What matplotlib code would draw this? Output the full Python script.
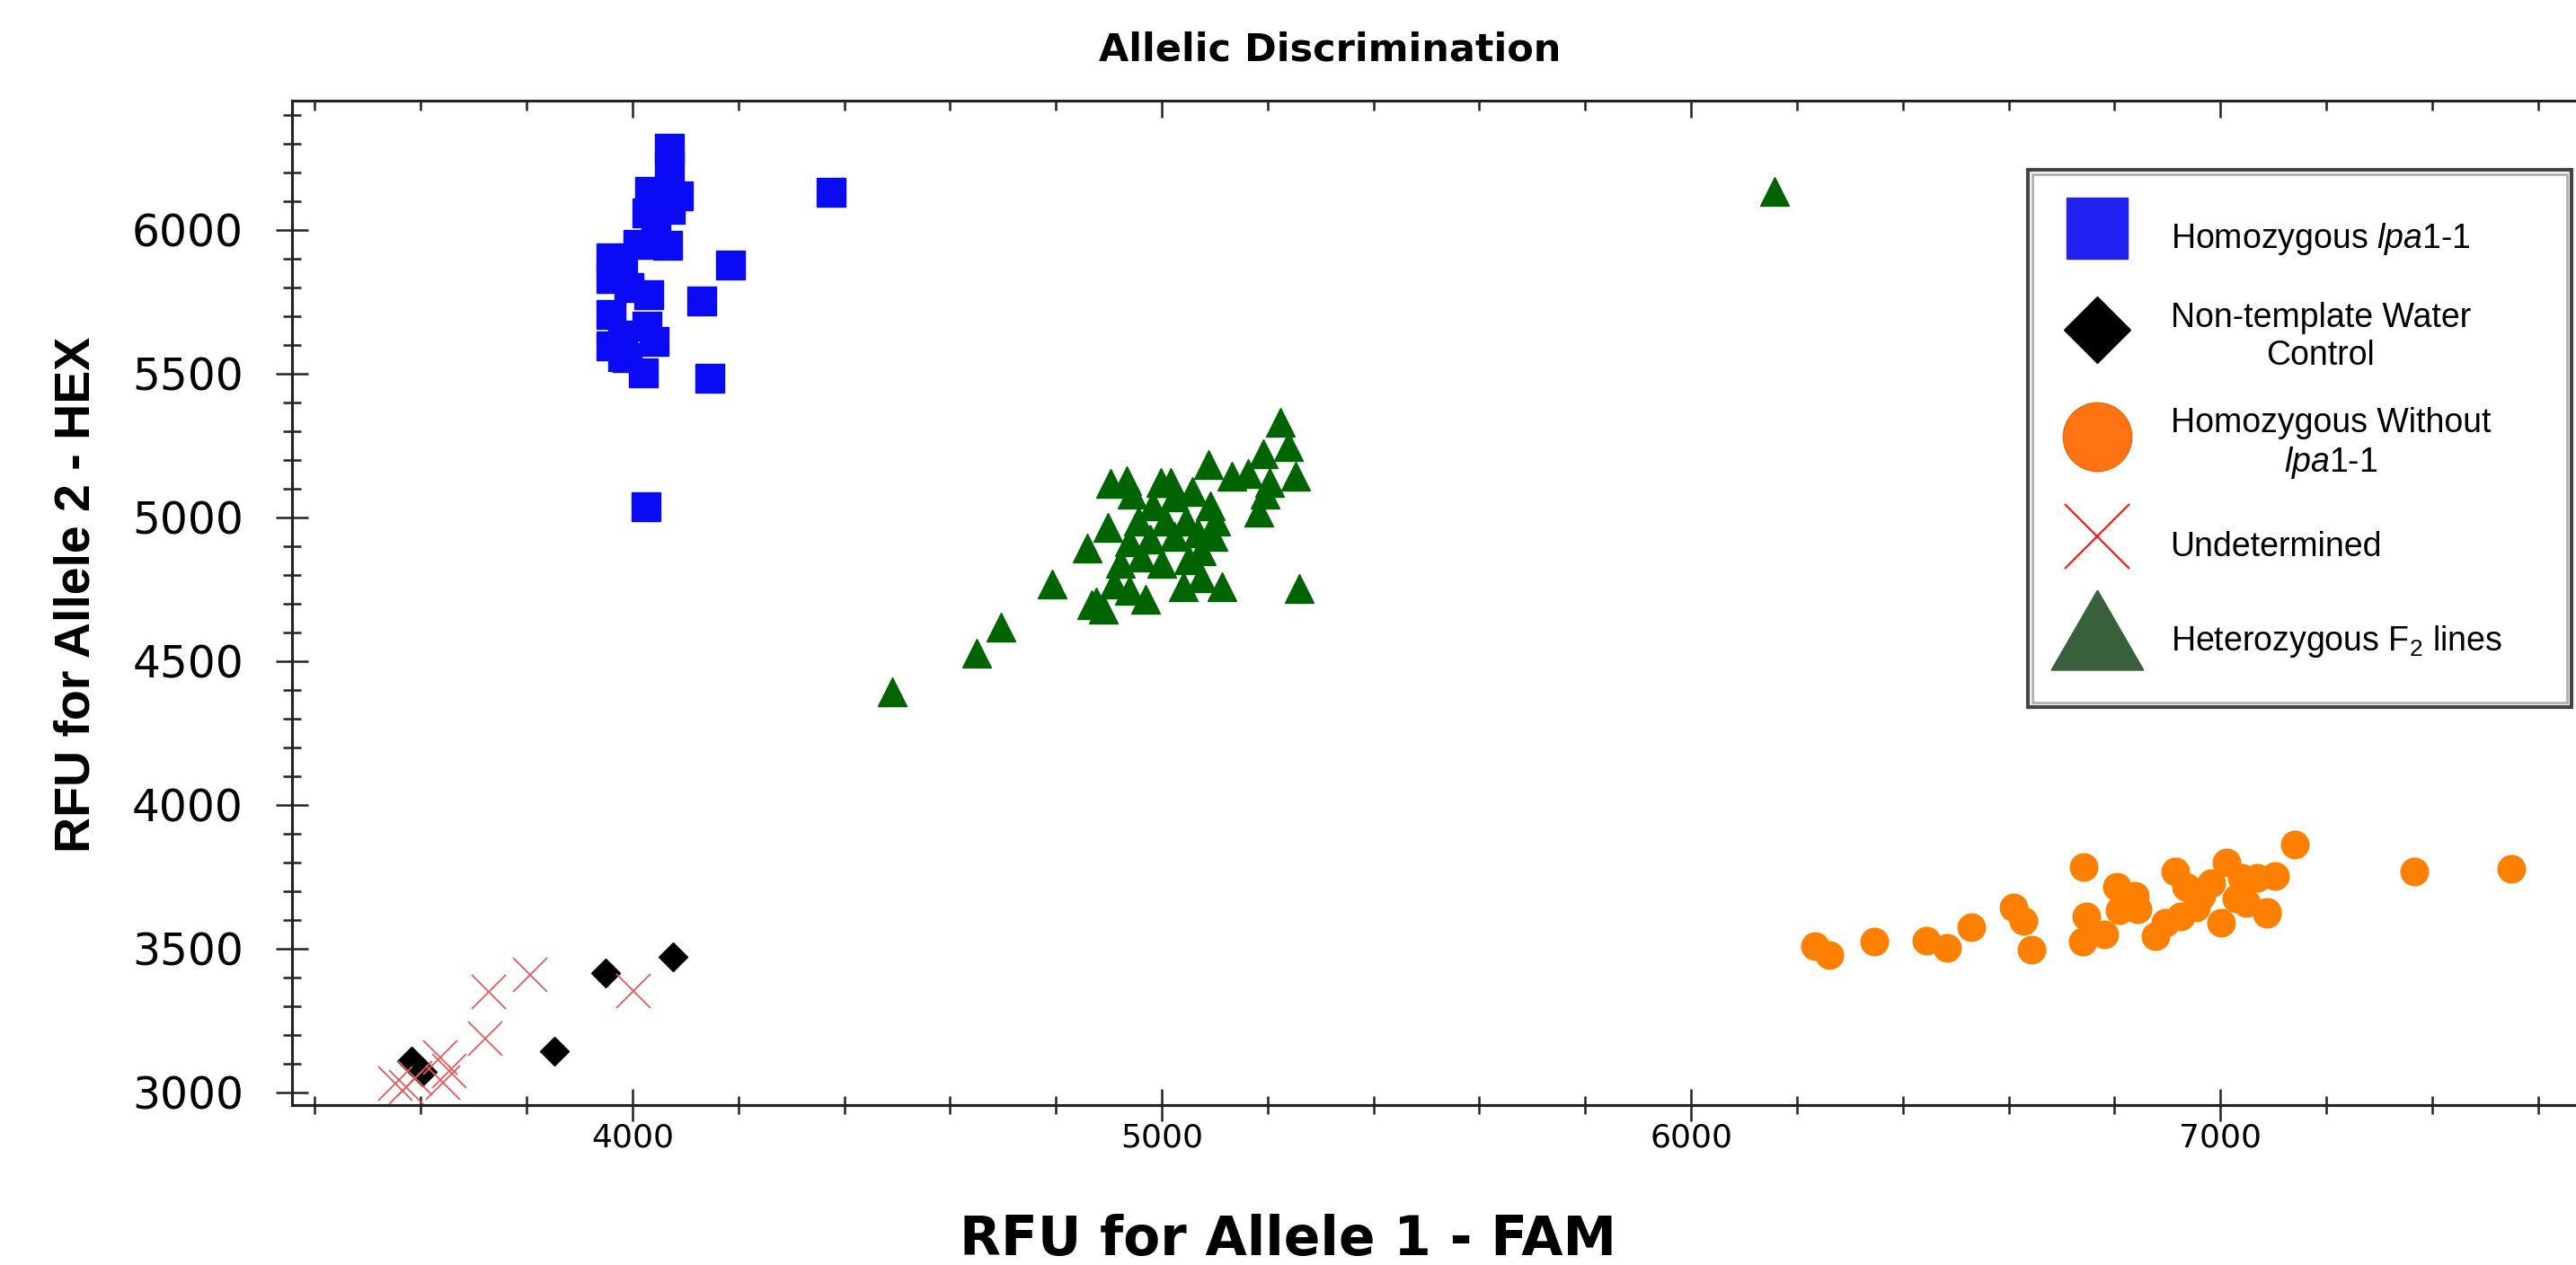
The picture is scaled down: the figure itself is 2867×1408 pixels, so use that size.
import matplotlib
matplotlib.use('Agg')
import matplotlib.pyplot as plt
from matplotlib.lines import Line2D
from matplotlib.patches import Rectangle
from matplotlib.ticker import MultipleLocator

plt.rcParams['font.family'] = 'DejaVu Sans'
plt.rcParams['mathtext.fontset'] = 'custom'
plt.rcParams['mathtext.rm'] = 'Liberation Sans'
plt.rcParams['mathtext.it'] = 'Liberation Sans:italic'

# RFU values (FAM = x, HEX = y)
hom_lpa_fam = [4069, 4069, 4033, 4087, 4027, 4072, 4010, 4067, 4044, 3982, 4030, 3993, 4027, 4041,
               3982, 4021, 4185, 4131, 4146, 3982, 3959, 3959, 3959, 3959, 3990, 4375, 4025]
hom_lpa_hex = [6285, 6222, 6133, 6118, 6060, 6071, 5951, 5946, 5978, 5894, 5774, 5800, 5665, 5613,
               5633, 5503, 5878, 5753, 5484, 5560, 5904, 5831, 5706, 5597, 5555, 6131, 5037]

ntc_fam = [4076, 3949, 3852, 3582, 3603]
ntc_hex = [3472, 3416, 3144, 3110, 3072]

hom_wt_fam = [6234, 6262, 6346, 6445, 6484, 6530, 6610, 6628, 6643, 6742, 6747, 6740, 6781, 6805,
              6810, 6844, 6878, 6915, 6925, 6935, 6964, 6983, 7002, 7012, 7031, 7041, 7069, 7088,
              7103, 7141, 7367, 7550, 6954, 6897, 6839, 7049, 7088]
hom_wt_hex = [3509, 3478, 3525, 3528, 3503, 3575, 3644, 3597, 3497, 3784, 3613, 3525, 3550, 3716,
              3634, 3638, 3544, 3769, 3613, 3716, 3684, 3728, 3591, 3800, 3675, 3747, 3747, 3628,
              3753, 3863, 3769, 3778, 3644, 3591, 3684, 3659, 3622]

undet_fam = [4002, 3806, 3729, 3722, 3637, 3654, 3642, 3552, 3572, 3590]
undet_hex = [3354, 3409, 3349, 3187, 3123, 3075, 3035, 3030, 3018, 3050]

het_fam = [4491, 4650, 4696, 4793, 5260, 5224, 5239, 5253, 5192, 5183, 5195,
           4903, 4934, 4998, 5017, 5088, 5133, 5163, 5204, 4898, 4859, 4944, 4983, 5024,
           5057, 5091, 5102, 4956, 5006, 5046, 4939, 4978, 5024, 5068, 5097, 4961, 4922,
           5000, 5051, 5075, 4910, 4876, 4939, 4969, 5041, 5114, 5075, 4868, 4890, 6158]
het_hex = [4394, 4528, 4619, 4769, 4753, 5331, 5247, 5144, 5222, 5019, 5081,
           5119, 5128, 5123, 5123, 5185, 5144, 5154, 5123, 4967, 4894, 5081, 5040, 5072,
           5091, 5040, 4988, 4988, 4988, 4988, 4916, 4925, 4934, 4947, 4934, 4863, 4841,
           4841, 4853, 4884, 4769, 4706, 4747, 4716, 4759, 4759, 4791, 4697, 4680, 6134]

labels = ['Homozygous $\\mathit{lpa1}$-$\\mathit{1}$',
          'Non-template Water\nControl',
          'Homozygous Without\n$\\mathit{lpa1}$-$\\mathit{1}$',
          'Undetermined',
          'Heterozygous F$_2$ lines']

fig = plt.figure(figsize=(28.67, 14.08), dpi=100)
ax = fig.add_axes([0.1134, 0.1264, 1 - 0.1134, 0.9205 - 0.1264])

ax.plot(hom_wt_fam, hom_wt_hex, ls='none', marker='o', ms=22, color='#ff8000')
ax.plot(het_fam, het_hex, ls='none', marker='^', ms=23, color='#006400')
ax.plot(hom_lpa_fam, hom_lpa_hex, ls='none', marker='s', ms=23, color='#0a0af5')
ax.plot(ntc_fam, ntc_hex, ls='none', marker='D', ms=16, color='black')
ax.plot(undet_fam, undet_hex, ls='none', marker='x', ms=27, mew=1.3, color='#e85a5a')

ax.set_xlim(3357, 7672)
ax.set_ylim(2956, 6450)

ax.xaxis.set_major_locator(MultipleLocator(1000))
ax.xaxis.set_minor_locator(MultipleLocator(200))
ax.yaxis.set_major_locator(MultipleLocator(500))
ax.yaxis.set_minor_locator(MultipleLocator(100))
ax.tick_params(axis='both', which='major', direction='inout', length=26, width=1.8, color='#222222')
ax.tick_params(axis='both', which='minor', direction='inout', length=14, width=1.8, color='#222222')
ax.tick_params(axis='y', which='major', labelsize=35, pad=26)
ax.tick_params(axis='x', which='major', labelsize=26, pad=1)
ax.tick_params(top=False, right=False, which='both')
for s in ax.spines.values():
    s.set_linewidth(2.2)
    s.set_color('#222222')
ax.spines['right'].set_visible(False)

# top axis only has inward ticks
top = ax.twiny()
top.set_xlim(ax.get_xlim())
top.xaxis.set_major_locator(MultipleLocator(1000))
top.xaxis.set_minor_locator(MultipleLocator(200))
top.tick_params(axis='x', which='major', direction='in', length=14, width=1.8, labeltop=False, color='#222222')
top.tick_params(axis='x', which='minor', direction='in', length=8, width=1.8, color='#222222')
for s in top.spines.values():
    s.set_linewidth(2.2)
    s.set_color('#222222')
top.spines['right'].set_visible(False)

tri = [(0, 0.866), (-1, -0.866), (1, -0.866), (0, 0.866)]
handles = [
    Line2D([], [], ls='none', marker='s', ms=49, color='#2121f2'),
    Line2D([], [], ls='none', marker='D', ms=38, color='black'),
    Line2D([], [], ls='none', marker='o', ms=55, mfc='#ff7312', mec='#e86a10'),
    Line2D([], [], ls='none', marker='x', ms=52, mew=1.6, color='#ff1a1a'),
    Line2D([], [], ls='none', marker=tri, ms=74, color='#38613b'),
]
leg = top.legend(handles, labels, loc='upper left', mode='expand',
                 bbox_to_anchor=(2257 / 2867, (1408 - 790) / 1408, 605 / 2867, 601 / 1408),
                 bbox_transform=fig.transFigure, borderaxespad=0,
                 prop={'family': 'Liberation Sans', 'size': 27},
                 handlelength=1.81, handleheight=2.3, handletextpad=1.28, borderpad=1.14,
                 labelspacing=1.05, numpoints=1, fancybox=False, framealpha=1,
                 edgecolor='#444444')
leg.get_frame().set_linewidth(3)
for i in (1, 2):
    leg.get_texts()[i].set_multialignment('center')

# light inner line of the double legend border
fig.canvas.draw()
bb = leg.get_frame().get_window_extent().transformed(fig.transFigure.inverted())
dx, dy = 5 / 2867, 5 / 1408
fig.patches.append(Rectangle((bb.x0 + dx, bb.y0 + dy), bb.width - 2 * dx, bb.height - 2 * dy,
                             transform=fig.transFigure, fill=False, edgecolor='#b0b0b0',
                             linewidth=2, zorder=10))

fig.text(1480 / 2867, 1 - 55 / 1408, 'Allelic Discrimination', ha='center', va='center',
         fontsize=31, fontweight='bold')
fig.text(1434 / 2867, 1 - 1380 / 1408, 'RFU for Allele 1 - FAM', ha='center', va='center',
         fontsize=43, fontweight='bold')
fig.text(86 / 2867, 1 - 662 / 1408, 'RFU for Allele 2 - HEX', ha='center', va='center',
         rotation=90, fontsize=40, fontweight='bold', family='Liberation Sans')

fig.savefig('out.png', dpi=100)
